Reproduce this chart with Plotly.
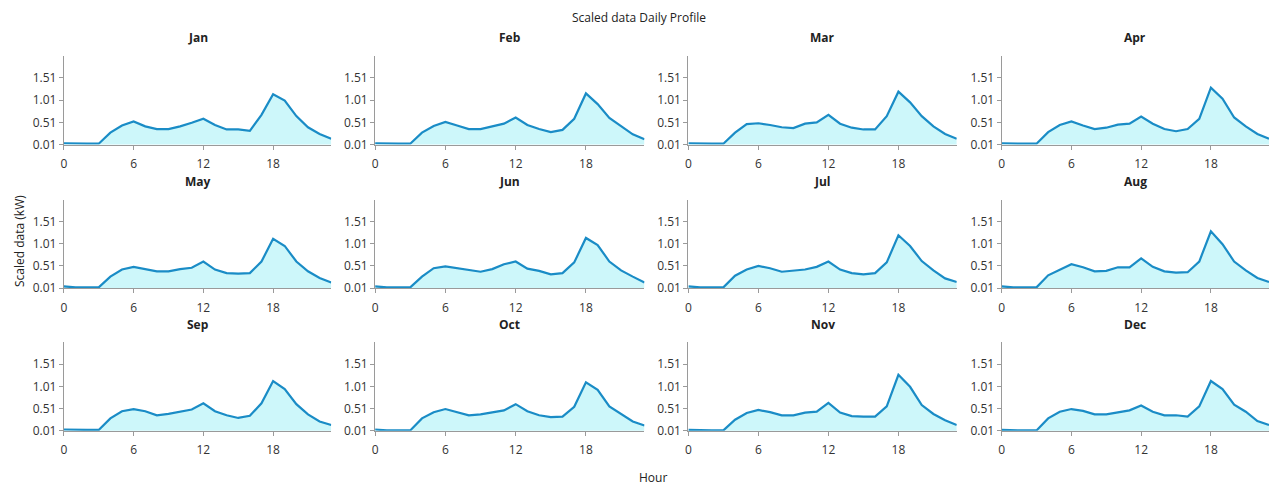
import plotly.graph_objects as go

hours = list(range(24))
months = ["Jan", "Feb", "Mar", "Apr", "May", "Jun", "Jul", "Aug", "Sep", "Oct", "Nov", "Dec"]

jan = [0.04, 0.03, 0.03, 0.03, 0.28, 0.44, 0.53, 0.42, 0.36, 0.36, 0.42, 0.50, 0.59, 0.45, 0.35, 0.35, 0.32, 0.68, 1.14, 1.00, 0.65, 0.40, 0.25, 0.14]
feb = [0.04, 0.03, 0.03, 0.03, 0.28, 0.43, 0.52, 0.44, 0.36, 0.36, 0.42, 0.48, 0.62, 0.45, 0.36, 0.29, 0.34, 0.59, 1.16, 0.92, 0.61, 0.42, 0.24, 0.13]
mar = [0.04, 0.03, 0.03, 0.03, 0.28, 0.47, 0.49, 0.45, 0.40, 0.38, 0.48, 0.51, 0.68, 0.48, 0.39, 0.35, 0.35, 0.65, 1.20, 0.96, 0.65, 0.42, 0.25, 0.14]
apr = [0.04, 0.03, 0.03, 0.03, 0.29, 0.45, 0.53, 0.44, 0.36, 0.39, 0.46, 0.48, 0.64, 0.48, 0.36, 0.31, 0.36, 0.59, 1.29, 1.04, 0.62, 0.42, 0.25, 0.14]
may = [0.05, 0.03, 0.03, 0.03, 0.27, 0.43, 0.49, 0.44, 0.39, 0.39, 0.44, 0.47, 0.61, 0.43, 0.35, 0.34, 0.35, 0.61, 1.12, 0.96, 0.61, 0.39, 0.24, 0.14]
jun = [0.05, 0.03, 0.03, 0.03, 0.27, 0.46, 0.50, 0.46, 0.41, 0.38, 0.44, 0.55, 0.61, 0.45, 0.40, 0.32, 0.35, 0.59, 1.14, 0.98, 0.61, 0.41, 0.27, 0.14]
jul = [0.05, 0.03, 0.03, 0.03, 0.29, 0.43, 0.51, 0.46, 0.38, 0.40, 0.43, 0.49, 0.61, 0.43, 0.35, 0.32, 0.35, 0.59, 1.20, 0.96, 0.62, 0.41, 0.23, 0.15]
aug = [0.05, 0.03, 0.03, 0.03, 0.30, 0.43, 0.55, 0.48, 0.39, 0.40, 0.48, 0.48, 0.68, 0.49, 0.39, 0.36, 0.37, 0.61, 1.29, 1.00, 0.61, 0.41, 0.24, 0.15]
sep = [0.04, 0.03, 0.03, 0.03, 0.29, 0.45, 0.50, 0.45, 0.36, 0.39, 0.44, 0.49, 0.63, 0.45, 0.36, 0.30, 0.35, 0.63, 1.13, 0.95, 0.61, 0.38, 0.22, 0.14]
oct_ = [0.04, 0.02, 0.02, 0.02, 0.29, 0.43, 0.50, 0.43, 0.36, 0.38, 0.42, 0.47, 0.61, 0.45, 0.36, 0.32, 0.33, 0.55, 1.10, 0.93, 0.56, 0.38, 0.22, 0.13]
nov = [0.03, 0.02, 0.02, 0.02, 0.26, 0.41, 0.48, 0.43, 0.36, 0.36, 0.42, 0.44, 0.64, 0.42, 0.34, 0.33, 0.33, 0.56, 1.27, 1.00, 0.59, 0.39, 0.25, 0.14]
dec = [0.03, 0.02, 0.02, 0.02, 0.29, 0.44, 0.50, 0.46, 0.38, 0.38, 0.43, 0.47, 0.58, 0.44, 0.36, 0.36, 0.33, 0.56, 1.13, 0.95, 0.60, 0.44, 0.23, 0.14]
series = [jan, feb, mar, apr, may, jun, jul, aug, sep, oct_, nov, dec]

x_ticks = [0, 6, 12, 18]
y_ticks = [0.01, 0.51, 1.01, 1.51]
y_tick_labels = ["0.01", "0.51", "1.01", "1.51"]

W, H = 1275, 490
col_px = [(61, 329), (373, 643), (687, 956), (1001, 1269)]
row_px = [(57, 147), (203, 293), (348, 438)]
title_y_px = [38, 185, 330]

LINE = "#1a8cc6"
FILL = "rgba(200,246,250,0.9)"
AX = "#9a9a9a"
FONT = "Open Sans, Noto Sans, sans-serif"

fig = go.Figure()
layout = {}
annotations = []
for i, (name, vals) in enumerate(zip(months, series)):
    r, c = divmod(i, 4)
    idx = "" if i == 0 else str(i + 1)
    fig.add_trace(go.Scatter(
        x=hours, y=vals, mode="lines", fill="tozeroy",
        line=dict(color=LINE, width=2.2), fillcolor=FILL,
        xaxis="x" + idx, yaxis="y" + idx, showlegend=False,
    ))
    x0, x1 = col_px[c]
    yt, yb = row_px[r]
    layout["xaxis" + idx] = dict(
        domain=[x0 / W, x1 / W], anchor="y" + idx, range=[0, 23],
        tickvals=x_ticks, ticks="outside", ticklen=4, tickcolor=AX,
        ticklabelstandoff=4,
        showline=True, linecolor=AX, linewidth=1, showgrid=False, zeroline=False,
        tickfont=dict(size=12, color="#333333"),
    )
    layout["yaxis" + idx] = dict(
        domain=[1 - yb / H, 1 - yt / H], anchor="x" + idx, range=[0.01, 2.0],
        tickvals=y_ticks, ticktext=y_tick_labels, ticks="outside", ticklen=4, tickcolor=AX,
        showline=True, linecolor=AX, linewidth=1, showgrid=False, zeroline=False,
        tickfont=dict(size=12, color="#333333"),
    )
    annotations.append(dict(
        text="<b>" + name + "</b>", x=(x0 + x1) / 2 / W, y=1 - title_y_px[r] / H,
        xref="paper", yref="paper", showarrow=False, xanchor="center", yanchor="middle",
        font=dict(size=12, color="#222222"),
    ))

annotations.append(dict(text="Scaled data Daily Profile", x=638 / W, y=1 - 18 / H,
                        xref="paper", yref="paper", showarrow=False, xanchor="center",
                        yanchor="middle", font=dict(size=12, color="#222222")))
annotations.append(dict(text="Hour", x=652 / W, y=1 - 485 / H,
                        xref="paper", yref="paper", showarrow=False, xanchor="center",
                        yanchor="middle", font=dict(size=12, color="#222222")))
annotations.append(dict(text="Scaled data (kW)", x=16 / W, y=1 - 245 / H, textangle=-90,
                        xref="paper", yref="paper", showarrow=False, xanchor="center",
                        yanchor="middle", font=dict(size=12, color="#222222")))

fig.update_layout(
    width=W, height=H, margin=dict(l=0, r=0, t=0, b=0),
    paper_bgcolor="white", plot_bgcolor="white",
    font=dict(family=FONT, size=12, color="#333333"),
    annotations=annotations, **layout,
)
fig.write_html("out.html")
